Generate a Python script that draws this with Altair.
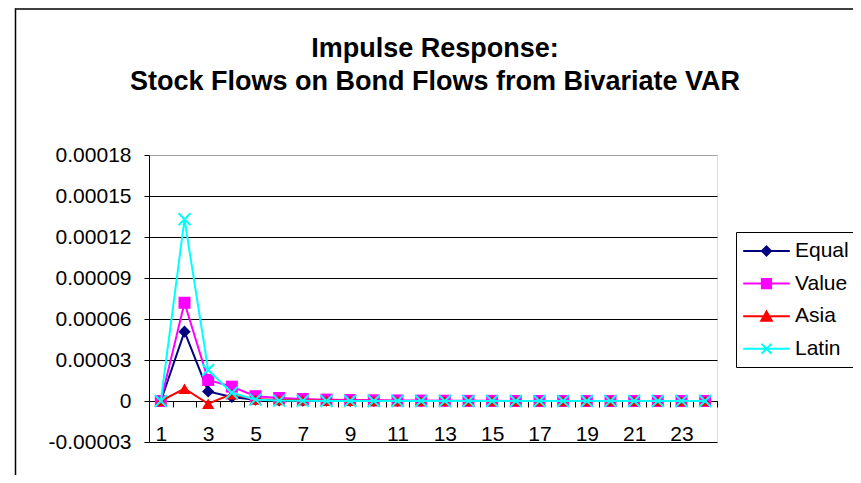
import altair as alt
import pandas as pd

# ---- data ----
steps = [1, 2, 3, 4, 5, 6, 7, 8, 9, 10, 11, 12, 13, 14, 15, 16, 17, 18, 19, 20, 21, 22, 23, 24]
series_names = ["Equal", "Value", "Asia", "Latin"]
equal = [0, 0.0000507, 0.0000070, 0.0000030, 0.0000010, 0.0000005, 0.0000003, 0.0000002,
         0.0000001, 0.0000001, 0, 0, 0, 0, 0, 0, 0, 0, 0, 0, 0, 0, 0, 0]
value = [0, 0.0000719, 0.0000154, 0.0000105, 0.0000035, 0.0000022, 0.0000014, 0.0000010,
         0.0000007, 0.0000005, 0.0000004, 0.0000003, 0.0000002, 0.0000001, 0.0000001, 0,
         0, 0, 0, 0, 0, 0, 0, 0]
asia = [0, 0.0000090, -0.0000020, 0.0000050, 0.0000012, 0.0000008, 0.0000005, 0.0000003,
        0.0000002, 0.0000001, 0, 0, 0, 0, 0, 0, 0, 0, 0, 0, 0, 0, 0, 0]
latin = [0, 0.000133, 0.0000227, 0.0000060, 0.0000010, 0.0000003, 0.0000001, 0,
         0, 0, 0, 0, 0, 0, 0, 0, 0, 0, 0, 0, 0, 0, 0, 0]
y_ticks = [-0.00003, 0, 0.00003, 0.00006, 0.00009, 0.00012, 0.00015, 0.00018]
title_lines = ["Impulse Response:", "Stock Flows on Bond Flows from Bivariate VAR"]

# ---- styles ----
colors = ["#000080", "#FF00FF", "#FF0000", "#00FFFF"]
FONT = "Liberation Sans"
X_PATH = "M-1,-1L1,1M-1,1L1,-1"
marker_styles = {
    "Equal": dict(shape="diamond", size=150, filled=True),
    "Value": dict(shape="square", size=144, filled=True),
    "Asia": dict(shape="triangle-up", size=150, filled=True),
    "Latin": dict(shape=X_PATH, size=144, filled=False, strokeWidth=2),
}
legend_paths = [
    "M-2.33,0H2.33M-0.45,0L0,-0.45L0.45,0L0,0.45Z",
    "M-2.33,0H2.33M-0.46,-0.46H0.46V0.46H-0.46Z",
    "M-2.33,0H2.33M0,-0.46L0.53,0.46L-0.53,0.46Z",
    "M-2.33,0H2.33M-0.5,-0.5L0.5,0.5M-0.5,0.5L0.5,-0.5",
]

rows = []
for name, vals in zip(series_names, [equal, value, asia, latin]):
    for s, v in zip(steps, vals):
        rows.append({"step": s, "series": name, "val": v})
df = pd.DataFrame(rows)

x_enc = alt.X(
    "step:O",
    sort=steps,
    bandPosition=0.5,
    scale=alt.Scale(type="band", paddingInner=0, paddingOuter=0),
    axis=alt.Axis(
        title=None, offset=-41, tickBand="extent", tickSize=6, labelPadding=16,
        labelAngle=0, labelOverlap=False,
        labelExpr="datum.value % 2 == 1 ? datum.label : ''",
        labelFontSize=21, labelFont=FONT, labelColor="black",
        domainColor="black", tickColor="black", grid=False,
    ),
)
y_enc = alt.Y(
    "val:Q",
    scale=alt.Scale(domain=[-0.00003, 0.00018], nice=False, zero=False),
    axis=alt.Axis(
        title=None, values=y_ticks, labelExpr="toString(datum.value)",
        grid=True,
        gridColor={"condition": {"test": "datum.value >= 0.00018", "value": "#a0a0a0"}, "value": "black"},
        gridWidth=1, domainColor="black", tickColor="black", tickSize=5, labelPadding=13,
        labelFontSize=21, labelFont=FONT, labelColor="black",
    ),
)
color_scale = alt.Scale(domain=series_names, range=colors)

base = alt.Chart(df)

# legend-only layer (draws no marks; its scales carry the legend)
legend_layer = base.transform_filter("datum.step < 0").mark_point(filled=True, opacity=1).encode(
    x=x_enc, y=y_enc,
    color=alt.Color("series:N", scale=color_scale, title=None, legend=alt.Legend(
        title=None, orient="none", legendX=587, legendY=77,
        symbolSize=400, symbolOffset=11.5, labelOffset=17.5, padding=8, rowPadding=11.6,
        labelFontSize=21, labelFont=FONT, labelColor="black",
        strokeColor="black", fillColor="white", symbolOpacity=1, symbolStrokeWidth=2,
        symbolStrokeColor=alt.ExprRef(expr="scale('color', datum.value)"),
        symbolFillColor=alt.ExprRef(expr="scale('color', datum.value)"),
    )),
    shape=alt.Shape("series:N", scale=alt.Scale(domain=series_names, range=legend_paths), title=None),
)

layers = [legend_layer]
for name in series_names:
    sub = base.transform_filter(alt.datum.series == name)
    line = sub.mark_line(strokeWidth=2).encode(
        x=x_enc, y=y_enc, color=alt.Color("series:N", scale=color_scale, legend=None)
    )
    pts = sub.mark_point(opacity=1, **marker_styles[name]).encode(
        x=x_enc, y=y_enc, color=alt.Color("series:N", scale=color_scale, legend=None)
    )
    layers += [line, pts]

frame = alt.Chart(alt.Data(values=[{"k": 1}]))
left_border = frame.mark_rule(color="black", strokeWidth=1.5).encode(
    x=alt.value(-133.5), y=alt.value(-147), y2=alt.value(320))
top_border = frame.mark_rule(color="#404040", strokeWidth=2).encode(
    x=alt.value(-133.5), x2=alt.value(710), y=alt.value(-146))
layers += [left_border, top_border]

chart = alt.layer(*layers).properties(
    width=568, height=287,
    autosize=alt.AutoSizeParams(type="none"),
    padding={"left": 141, "top": 147, "right": 136, "bottom": 33},
    title=alt.TitleParams(
        text=title_lines, fontSize=27, font=FONT, fontWeight="bold", color="black",
        anchor="middle", frame="group", offset=-89, lineHeight=33.5, dx=2,
    ),
).configure_view(stroke="#a0a0a0", strokeWidth=1.5).configure(background="white")

chart.save("out.html", embed_options={"renderer": "svg", "actions": False})
